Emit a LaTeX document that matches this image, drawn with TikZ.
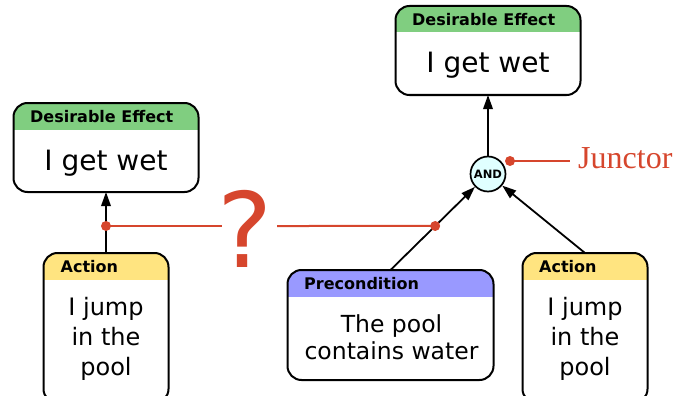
\documentclass[tikz,border=0pt]{standalone}
\usepackage{fontspec}
\setmainfont{DejaVu Sans}
\newfontfamily\annfont{Liberation Serif}
\usetikzlibrary{arrows.meta}
\definecolor{hdrgreen}{RGB}{128,206,128}
\definecolor{hdryellow}{RGB}{255,228,128}
\definecolor{hdrblue}{RGB}{153,153,255}
\definecolor{andfill}{RGB}{224,255,255}
\definecolor{annred}{RGB}{214,70,45}
\tikzset{
  box/.style={draw=black, line width=2pt, rounded corners=14pt, fill=white, inner sep=0pt, outer sep=0pt, anchor=north west},
  hdr/.style={path picture={\fill[#1, sharp corners] ([yshift=5pt,xshift=-5pt]path picture bounding box.north west) rectangle ([yshift=-26.5pt,xshift=5pt]path picture bounding box.north east);}},
  hdrtext/.style={font=\fontsize{16}{18}\selectfont\bfseries, inner sep=0pt, anchor=base west},
  bigtext/.style={font=\fontsize{28}{32}\selectfont, inner sep=0pt, anchor=base},
  bodytext/.style={font=\fontsize{24}{30}\selectfont, inner sep=0pt, anchor=base, align=center},
  arr/.style={draw=black, line width=1.8pt, -{Triangle[length=14pt,width=9.5pt]}},
  ann/.style={draw=annred, line width=2pt},
  annlabel/.style={text=annred, inner sep=0pt},
  junctor/.style={circle, draw=black, line width=1.7pt, fill=andfill, minimum size=35pt, inner sep=0pt, font=\fontsize{11.5}{12}\selectfont\bfseries}
}
\begin{document}
\begin{tikzpicture}[x=1pt,y=-1pt]
\useasboundingbox (0,0) rectangle (691,396);
\clip (0,0) rectangle (691,396);
% boxes
\node[box, hdr=hdrgreen, minimum width=185pt, minimum height=89pt] (de1) at (13.5,103) {};
\node[box, hdr=hdrgreen, minimum width=185pt, minimum height=89pt] (de2) at (395.5,6) {};
\node[box, hdr=hdryellow, minimum width=125pt, minimum height=150pt] (act1) at (43.5,253) {};
\node[box, hdr=hdryellow, minimum width=125pt, minimum height=150pt] (act2) at (522.5,253) {};
\node[box, hdr=hdrblue, minimum width=206pt, minimum height=110pt] (pre) at (287.5,270) {};
% headers
\node[hdrtext] (de1h) at (30,122) {Desirable Effect};
\node[hdrtext] (de2h) at (412,26) {Desirable Effect};
\node[hdrtext] (act1h) at (60.5,272) {Action};
\node[hdrtext] (act2h) at (539,272) {Action};
\node[hdrtext] (preh) at (304,289) {Precondition};
% body texts
\node[bigtext] (de1t) at (106,170) {I get wet};
\node[bigtext] (de2t) at (488,73) {I get wet};
\node[bodytext] (act1t) at (106,375) {I jump\\in the\\pool};
\node[bodytext] (act2t) at (585,375) {I jump\\in the\\pool};
\node[bodytext, font=\fontsize{23.5}{27}\selectfont] (pret) at (391.5,359) {The pool\\contains water};
% junctor
\coordinate (jy) at (0,174);
\node[junctor] (jn) at (de2.south |- jy) {AND};
% arrows
\draw[arr] (act1.north) -- (de1.south);
\draw[arr] (jn.north) -- (de2.south);
\draw[arr] (pre.north) -- (jn);
\draw[arr] (act2.north) -- (jn);
% annotations
\coordinate (d1) at (106,226);
\coordinate (q1) at (222,226);
\coordinate (q2) at (277,226);
\coordinate (d2) at (intersection of pre.north--jn.center and d1--q2);
\node[annlabel, anchor=base, font=\fontsize{104}{110}\selectfont] (qm) at (245,267) {?};
\draw[ann] (d1) -- (q1);
\draw[ann] (q2) -- (d2);
\fill[annred] (d1) circle (5pt);
\fill[annred] (d2) circle (5pt);
\coordinate (j1) at (510,161);
\coordinate (j2) at (570,161);
\node[annlabel, anchor=base west, font=\annfont\fontsize{32}{34}\selectfont] (jlab) at (578,168.5) {Junctor};
\draw[ann] (j1) -- (j2);
\fill[annred] (j1) circle (5pt);
\end{tikzpicture}
\end{document}
